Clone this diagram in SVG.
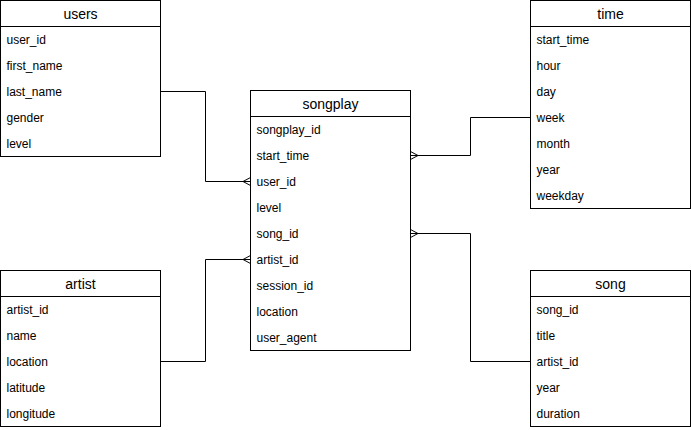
<svg xmlns="http://www.w3.org/2000/svg" width="691" height="430" viewBox="0 0 691 430">
<style>
.box{fill:#fff;stroke:#000;stroke-width:1}
.hl{stroke:#000;stroke-width:1}
.h{font-family:"Liberation Sans",Arial,sans-serif;font-size:14px;text-anchor:middle;fill:#000}
.r{font-family:"Liberation Sans",Arial,sans-serif;font-size:12px;fill:#000}
.c{fill:none;stroke:#000;stroke-width:1}
</style>
<rect width="691" height="430" fill="#fff"/>
<g id="connectors">
<path class="c" d="M160.5 91.5 H205.5 V181.5 H250.5"/>
<path class="c" d="M243 181.5 L250.5 177.5 M243 181.5 L250.5 185.5"/>
<path class="c" d="M530.5 117.5 H470.5 V155.5 H410.5"/>
<path class="c" d="M418 155.5 L410.5 151.5 M418 155.5 L410.5 159.5"/>
<path class="c" d="M160.5 361.5 H205.5 V259.5 H250.5"/>
<path class="c" d="M243 259.5 L250.5 255.5 M243 259.5 L250.5 263.5"/>
<path class="c" d="M530.5 361.5 H470.5 V233.5 H410.5"/>
<path class="c" d="M418 233.5 L410.5 229.5 M418 233.5 L410.5 237.5"/>
</g>
<g id="users" transform="translate(0.5,0.5)">
<rect class="box" width="160" height="156"/>
<line class="hl" x1="0" y1="26" x2="160" y2="26"/>
<text class="h" x="80" y="18">users</text>
<text class="r" x="6" y="43">user_id</text>
<text class="r" x="6" y="69">first_name</text>
<text class="r" x="6" y="95">last_name</text>
<text class="r" x="6" y="121">gender</text>
<text class="r" x="6" y="147">level</text>
</g>
<g id="time" transform="translate(530.5,0.5)">
<rect class="box" width="160" height="208"/>
<line class="hl" x1="0" y1="26" x2="160" y2="26"/>
<text class="h" x="80" y="18">time</text>
<text class="r" x="6" y="43">start_time</text>
<text class="r" x="6" y="69">hour</text>
<text class="r" x="6" y="95">day</text>
<text class="r" x="6" y="121">week</text>
<text class="r" x="6" y="147">month</text>
<text class="r" x="6" y="173">year</text>
<text class="r" x="6" y="199">weekday</text>
</g>
<g id="songplay" transform="translate(250.5,90.5)">
<rect class="box" width="160" height="260"/>
<line class="hl" x1="0" y1="26" x2="160" y2="26"/>
<text class="h" x="80" y="18">songplay</text>
<text class="r" x="6" y="43">songplay_id</text>
<text class="r" x="6" y="69">start_time</text>
<text class="r" x="6" y="95">user_id</text>
<text class="r" x="6" y="121">level</text>
<text class="r" x="6" y="147">song_id</text>
<text class="r" x="6" y="173">artist_id</text>
<text class="r" x="6" y="199">session_id</text>
<text class="r" x="6" y="225">location</text>
<text class="r" x="6" y="251">user_agent</text>
</g>
<g id="artist" transform="translate(0.5,270.5)">
<rect class="box" width="160" height="156"/>
<line class="hl" x1="0" y1="26" x2="160" y2="26"/>
<text class="h" x="80" y="18">artist</text>
<text class="r" x="6" y="43">artist_id</text>
<text class="r" x="6" y="69">name</text>
<text class="r" x="6" y="95">location</text>
<text class="r" x="6" y="121">latitude</text>
<text class="r" x="6" y="147">longitude</text>
</g>
<g id="song" transform="translate(530.5,270.5)">
<rect class="box" width="160" height="156"/>
<line class="hl" x1="0" y1="26" x2="160" y2="26"/>
<text class="h" x="80" y="18">song</text>
<text class="r" x="6" y="43">song_id</text>
<text class="r" x="6" y="69">title</text>
<text class="r" x="6" y="95">artist_id</text>
<text class="r" x="6" y="121">year</text>
<text class="r" x="6" y="147">duration</text>
</g>
</svg>
